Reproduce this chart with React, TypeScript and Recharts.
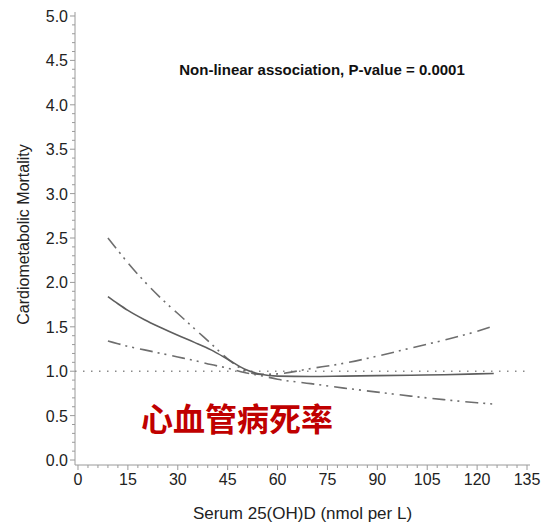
import { LineChart, Line, XAxis, YAxis, ReferenceLine, Label } from 'recharts';

const serum = [9, 12, 15, 20, 25, 30, 35, 40, 45, 50, 55, 60, 70, 80, 90, 100, 110, 120, 125];
const estimate = [1.84, 1.76, 1.685, 1.58, 1.49, 1.405, 1.325, 1.24, 1.135, 1.025, 0.965, 0.945, 0.94, 0.945, 0.95, 0.955, 0.96, 0.97, 0.975];
const upperCI = [2.50, 2.36, 2.22, 2.01, 1.82, 1.65, 1.48, 1.31, 1.14, 1.01, 0.965, 0.97, 1.03, 1.09, 1.17, 1.26, 1.35, 1.45, 1.51];
const lowerCI = [1.34, 1.31, 1.28, 1.24, 1.20, 1.16, 1.12, 1.075, 1.035, 0.985, 0.95, 0.91, 0.86, 0.81, 0.765, 0.72, 0.68, 0.645, 0.63];

const xMajor = [0, 15, 30, 45, 60, 75, 90, 105, 120, 135];
const yMajor = [0, 0.5, 1, 1.5, 2, 2.5, 3, 3.5, 4, 4.5, 5];

// 4 minor ticks between each pair of majors
const withMinor = (major: number[]) => {
  const out: number[] = [];
  for (let i = 0; i < major.length - 1; i++) {
    const step = (major[i + 1] - major[i]) / 5;
    for (let k = 0; k < 5; k++) out.push(Math.round((major[i] + step * k) * 1000) / 1000);
  }
  out.push(major[major.length - 1]);
  return out;
};

const xTicks = withMinor(xMajor);
const yTicks = withMinor(yMajor);

const data = serum.map((s, i) => ({
  serum: s,
  estimate: estimate[i],
  upper: upperCI[i],
  lower: lowerCI[i],
}));

const axisColor = '#9a9a9a';
const textColor = '#222';
const font = '"Liberation Sans", Arial, sans-serif';

const XTick = ({ x, y, payload }: any) => {
  const major = xMajor.includes(payload.value);
  return (
    <g>
      <line x1={x} x2={x} y1={y} y2={y + (major ? 5 : 3)} stroke={axisColor} />
      {major && (
        <text x={x} y={y + 20} textAnchor="middle" fill={textColor} fontSize={16} fontFamily={font}>
          {payload.value}
        </text>
      )}
    </g>
  );
};

const YTick = ({ x, y, payload }: any) => {
  const major = yMajor.includes(payload.value);
  return (
    <g>
      <line x1={x} x2={x - (major ? 5 : 3)} y1={y} y2={y} stroke={axisColor} />
      {major && (
        <text x={x - 7} y={y + 6} textAnchor="end" fill={textColor} fontSize={16} fontFamily={font}>
          {payload.value.toFixed(1)}
        </text>
      )}
    </g>
  );
};

export default function App() {
  return (
    <div style={{ position: 'relative', width: 541, height: 525, background: '#fff' }}>
      <style>{'body{margin:0}'}</style>
      <LineChart width={541} height={525} data={data} margin={{ top: 12, right: 11, bottom: 0, left: 0 }}>
        <XAxis
          dataKey="serum"
          type="number"
          domain={[-0.9, 135.9]}
          ticks={xTicks}
          interval={0}
          tickSize={0}
          tickMargin={0}
          tickLine={false}
          tick={<XTick />}
          axisLine={{ stroke: axisColor }}
          height={60}
        >
          <Label
            content={({ viewBox }: any) => (
              <text
                x={viewBox.x + viewBox.width / 2}
                y={viewBox.y + 54}
                textAnchor="middle"
                fill={textColor}
                fontSize={17}
                fontFamily={font}
              >
                Serum 25(OH)D (nmol per L)
              </text>
            )}
          />
        </XAxis>
        <YAxis
          type="number"
          domain={[-0.056, 5.045]}
          ticks={yTicks}
          interval={0}
          tickSize={0}
          tickMargin={0}
          tickLine={false}
          tick={<YTick />}
          axisLine={{ stroke: axisColor }}
          width={75}
        >
          <Label
            content={({ viewBox }: any) => {
              const cx = 29;
              const cy = viewBox.y + viewBox.height / 2 - 4;
              return (
                <text
                  x={cx}
                  y={cy}
                  transform={`rotate(-90, ${cx}, ${cy})`}
                  textAnchor="middle"
                  fill={textColor}
                  fontSize={16}
                  fontFamily={font}
                >
                  Cardiometabolic Mortality
                </text>
              );
            }}
          />
        </YAxis>
        <ReferenceLine y={1} stroke="#8a8a8a" strokeWidth={1.5} strokeDasharray="1.5 6.5" />
        <Line
          dataKey="upper"
          type="monotone"
          stroke="#6e6e6e"
          strokeWidth={1.6}
          strokeDasharray="13 5 2 5 2 6"
          dot={false}
          isAnimationActive={false}
        />
        <Line
          dataKey="lower"
          type="monotone"
          stroke="#6e6e6e"
          strokeWidth={1.6}
          strokeDasharray="13 5 2 5 2 6"
          dot={false}
          isAnimationActive={false}
        />
        <Line
          dataKey="estimate"
          type="monotone"
          stroke="#5e5e5e"
          strokeWidth={1.6}
          dot={false}
          isAnimationActive={false}
        />
      </LineChart>
      <div
        style={{
          position: 'absolute',
          left: 322,
          top: 62,
          transform: 'translateX(-50%)',
          whiteSpace: 'nowrap',
          fontFamily: font,
          fontWeight: 'bold',
          fontSize: 15,
          lineHeight: '16px',
          color: '#111',
        }}
      >
        Non-linear association, P-value = 0.0001
      </div>
      <div
        style={{
          position: 'absolute',
          left: 141,
          top: 399,
          whiteSpace: 'nowrap',
          fontFamily: '"Noto Sans CJK SC", sans-serif',
          fontWeight: 'bold',
          fontSize: 32,
          lineHeight: '36px',
          color: '#c00000',
        }}
      >
        心血管病死率
      </div>
    </div>
  );
}
